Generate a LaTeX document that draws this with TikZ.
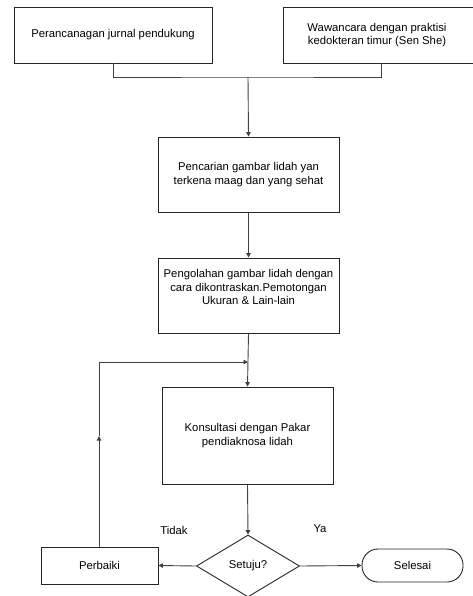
\documentclass[tikz,border=0pt]{standalone}
\usepackage{fontspec}
\setmainfont{Liberation Sans}
\usetikzlibrary{arrows.meta,shapes.geometric}
\begin{document}
\begin{tikzpicture}[x=1pt,y=-1pt,
  every node/.style={font=\fontsize{11.3}{13.8}\selectfont},
  box/.style={draw=black!85,line width=0.9pt,rectangle,align=center,inner sep=0pt},
  conn/.style={draw=black!75,line width=0.9pt},
  arr/.style={conn,-{Triangle[length=4.5pt,width=4.5pt]}}]
\useasboundingbox (0,0) rectangle (473,596);
\clip (0,0) rectangle (473,596);
\node[box,minimum width=198pt,minimum height=56pt] (b1) at (113,35) {Perancanagan jurnal pendukung};
\node[box,minimum width=197pt,minimum height=56pt] (b2) at (381.5,35) {};
\node[align=center] (b2t) at (377,35) {Wawancara dengan praktisi\\kedokteran timur (Sen She)};
\node[box,minimum width=181pt,minimum height=75pt] (b3) at (248.5,174.5) {Pencarian gambar lidah yan\\terkena maag dan yang sehat};
\node[box,minimum width=181pt,minimum height=75pt] (b4) at (248.5,295.5) {};
\node[align=center] (b4t) at (248.5,287) {Pengolahan gambar lidah dengan\\cara dikontraskan.Pemotongan\\Ukuran \& Lain-lain};
\node[box,minimum width=171pt,minimum height=97pt] (b5) at (247.5,435.5) {Konsultasi dengan Pakar\\pendiaknosa lidah};
\node[draw=black!85,line width=0.9pt,diamond,aspect=1.66,minimum width=103pt,minimum height=62pt,inner sep=0pt] (d) at (248,566) {Setuju?};
\node[box,minimum width=117pt,minimum height=37pt] (pb) at (99.5,565.5) {Perbaiki};
\node[box,rounded corners=16pt,minimum width=101pt,minimum height=33pt] (sl) at (412.5,565.5) {Selesai};
\node (tidak) at (174,530) {Tidak};
\node (ya) at (320,529) {Ya};
\coordinate (m) at (248,77);
\coordinate (j) at (248,362);
\coordinate (up) at (99,436);
\draw[conn] (b1.south) |- (m) -| (b2.south);
\draw[arr] (m) -- (b3.north);
\draw[arr] (b3.south) -- (b4.north);
\draw[arr] (b4.south) -- (b5.north);
\draw[arr] (b5.south) -- (d.north);
\draw[arr] (d.west) -- (pb.east);
\draw[arr] (d.east) -- (sl.west);
\draw[arr] (pb.north -| up) -- (up);
\draw[arr] (up) |- (j);
\end{tikzpicture}
\end{document}
